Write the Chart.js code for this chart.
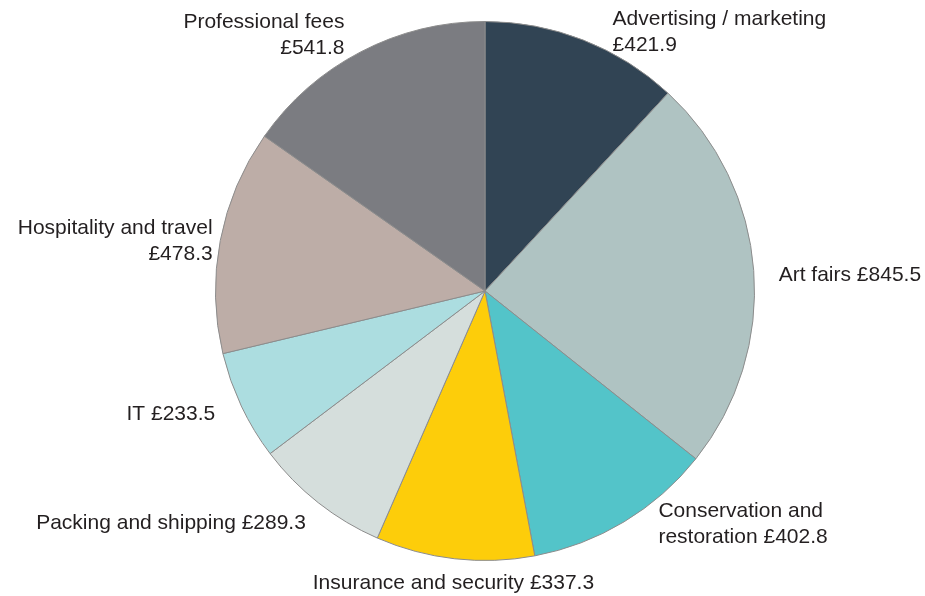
<!DOCTYPE html>
<html>
<head>
<meta charset="utf-8">
<script src="https://cdn.jsdelivr.net/npm/chart.js@4"></script>
<style>
  html, body { margin: 0; padding: 0; background: #fff; }
  #wrap { width: 925px; height: 596px; position: relative; }
</style>
</head>
<body>
<div id="wrap"><canvas id="costs"></canvas></div>
<script>
// spending by category, £
const categories = [
    'Advertising / marketing',
    'Art fairs',
    'Conservation and restoration',
    'Insurance and security',
    'Packing and shipping',
    'IT',
    'Hospitality and travel',
    'Professional fees'
];
const values = [421.9, 845.5, 402.8, 337.3, 289.3, 233.5, 478.3, 541.8];

// how each label is broken into lines (the value goes where {v} is)
const labelLines = [
    ['Advertising / marketing', '{v}'],
    ['Art fairs {v}'],
    ['Conservation and', 'restoration {v}'],
    ['Insurance and security {v}'],
    ['Packing and shipping {v}'],
    ['IT {v}'],
    ['Hospitality and travel', '{v}'],
    ['Professional fees', '{v}']
];

const sliceColors = [
    '#314454', // dark slate
    '#afc3c2', // grey green
    '#53c4c9', // teal
    '#fdcd0a', // yellow
    '#d5dedc', // pale grey
    '#acdde0', // light aqua
    '#bdada7', // taupe
    '#7b7c81'  // mid grey
];

// label placement: small nudges off the radial anchor, plus forced alignment
const labelNudge = [
    { dx: 22, dy: 11, align: 'left' },
    { dx: 5, dy: 6, align: 'left' },
    { dx: 24, dy: -15, align: 'left' },
    { dx: 1, dy: 5, align: 'center' },
    { dx: 0, dy: 5, align: 'right' },
    { dx: -8, dy: 0, align: 'right' },
    { dx: 12, dy: 5, align: 'right' },
    { dx: -7, dy: 1, align: 'right' }
];

const outsideLabels = {
    id: 'outsideLabels',
    afterDatasetsDraw(chart) {
        const ctx = chart.ctx;
        const meta = chart.getDatasetMeta(0);
        ctx.save();
        ctx.font = '21px "Liberation Sans", Arial, sans-serif';
        ctx.fillStyle = '#231f20';
        ctx.textBaseline = 'middle';
        const lineH = 26;
        meta.data.forEach((arc, i) => {
            const mid = (arc.startAngle + arc.endAngle) / 2;
            const r = arc.outerRadius + 20;
            const nudge = labelNudge[i];
            const x = arc.x + Math.cos(mid) * r + nudge.dx;
            const y = arc.y + Math.sin(mid) * r + nudge.dy;
            const lines = labelLines[i].map(s => s.replace('{v}', '£' + values[i].toFixed(1)));
            ctx.textAlign = nudge.align;
            const top = y - (lines.length - 1) * lineH / 2;
            lines.forEach((line, k) => ctx.fillText(line, x, top + k * lineH));
        });
        ctx.restore();
    }
};

new Chart(document.getElementById('costs').getContext('2d'), {
    type: 'pie',
    data: {
        labels: categories,
        datasets: [{
            data: values,
            backgroundColor: sliceColors,
            borderColor: '#8c8c8c',
            borderWidth: 1
        }]
    },
    options: {
        responsive: true,
        maintainAspectRatio: false,
        animation: false,
        layout: {
            padding: { left: 215, right: 170, top: 21, bottom: 35 }
        },
        plugins: {
            legend: { display: false },
            tooltip: { enabled: false }
        }
    },
    plugins: [outsideLabels]
});
</script>
</body>
</html>
